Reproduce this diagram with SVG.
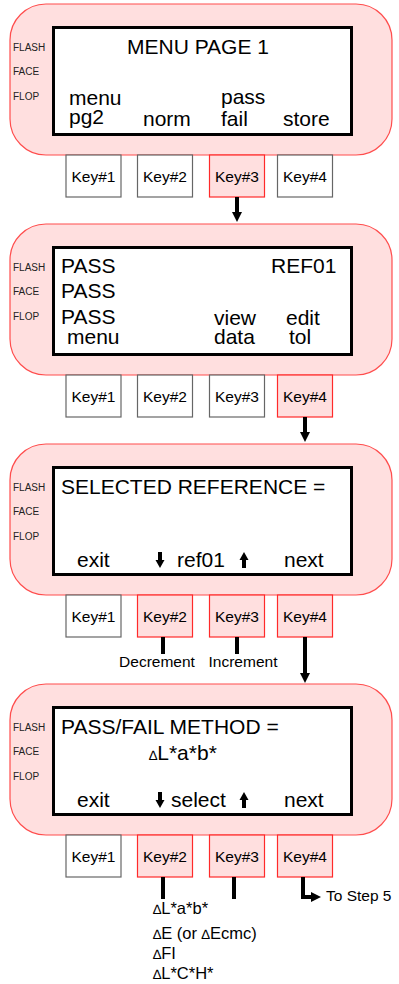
<svg xmlns="http://www.w3.org/2000/svg" width="399" height="984" viewBox="0 0 399 984">
<style>
text{font-family:"Liberation Sans",Arial,sans-serif;fill:#000}
.panel{fill:#ffdfdf;stroke:#ff4d4d;stroke-width:1.2}
.lcd{fill:#fff;stroke:#000;stroke-width:3}
.key{fill:#fff;stroke:#666;stroke-width:1.2}
.keyon{fill:#ffdfdf;stroke:#ff2a2a;stroke-width:1.2}
.side{font-size:10px;fill:#222}
.big{font-size:21px}
.kl{font-size:15.5px;text-anchor:middle}
.sm{font-size:15.5px}
.lst{font-size:16.5px}
.tri{font-size:13.5px}
.ln{stroke:#000;stroke-width:4;fill:none}
</style>
<defs>
<path id="dn" d="M-2,0H2V8H4.5L0,16L-4.5,8H-2Z" fill="#000"/>
<path id="up" d="M-2,16H2V8H4.5L0,0L-4.5,8H-2Z" fill="#000"/>
</defs>

<g id="panel1">
<rect class="panel" x="10" y="4" width="382" height="151" rx="36"/>
<text class="side" x="13" y="51">FLASH</text>
<text class="side" x="13" y="75">FACE</text>
<text class="side" x="13" y="100">FLOP</text>
<rect class="lcd" x="53.5" y="27.5" width="298" height="107"/>
<text class="big" x="127" y="54">MENU PAGE 1</text>
<text class="big" x="69" y="105">menu</text>
<text class="big" x="69" y="124">pg2</text>
<text class="big" x="143" y="126">norm</text>
<text class="big" x="221" y="104">pass</text>
<text class="big" x="221" y="126">fail</text>
<text class="big" x="283" y="126">store</text>
</g>
<g id="keys1">
<rect class="key" x="66" y="155" width="55" height="42"/><text class="kl" x="93.5" y="182">Key#1</text>
<rect class="key" x="137.5" y="155" width="55" height="42"/><text class="kl" x="165" y="182">Key#2</text>
<rect class="keyon" x="209.5" y="155" width="55" height="42"/><text class="kl" x="237" y="182">Key#3</text>
<rect class="key" x="277.5" y="155" width="55" height="42"/><text class="kl" x="305" y="182">Key#4</text>
</g>

<g id="panel2">
<rect class="panel" x="10" y="224" width="382" height="151" rx="36"/>
<text class="side" x="13" y="271">FLASH</text>
<text class="side" x="13" y="295">FACE</text>
<text class="side" x="13" y="320">FLOP</text>
<rect class="lcd" x="53.5" y="247.5" width="298" height="107"/>
<text class="big" x="61" y="273">PASS</text>
<text class="big" x="271" y="273">REF01</text>
<text class="big" x="61" y="298">PASS</text>
<text class="big" x="61" y="324">PASS</text>
<text class="big" x="67" y="344">menu</text>
<text class="big" x="214" y="325">view</text>
<text class="big" x="214" y="344">data</text>
<text class="big" x="286" y="325">edit</text>
<text class="big" x="289" y="344">tol</text>
</g>
<g id="keys2">
<rect class="key" x="66" y="375" width="55" height="42"/><text class="kl" x="93.5" y="402">Key#1</text>
<rect class="key" x="137.5" y="375" width="55" height="42"/><text class="kl" x="165" y="402">Key#2</text>
<rect class="key" x="209.5" y="375" width="55" height="42"/><text class="kl" x="237" y="402">Key#3</text>
<rect class="keyon" x="277.5" y="375" width="55" height="42"/><text class="kl" x="305" y="402">Key#4</text>
</g>

<g id="panel3">
<rect class="panel" x="10" y="444" width="382" height="151" rx="36"/>
<text class="side" x="13" y="491">FLASH</text>
<text class="side" x="13" y="515">FACE</text>
<text class="side" x="13" y="540">FLOP</text>
<rect class="lcd" x="53.5" y="467.5" width="298" height="107"/>
<text class="big" x="61" y="494">SELECTED REFERENCE =</text>
<text class="big" x="77" y="567">exit</text>
<use href="#dn" x="160" y="552"/>
<text class="big" x="177" y="567">ref01</text>
<use href="#up" x="244" y="552"/>
<text class="big" x="284" y="567">next</text>
</g>
<g id="keys3">
<rect class="key" x="66" y="595" width="55" height="42"/><text class="kl" x="93.5" y="622">Key#1</text>
<rect class="keyon" x="137.5" y="595" width="55" height="42"/><text class="kl" x="165" y="622">Key#2</text>
<rect class="keyon" x="209.5" y="595" width="55" height="42"/><text class="kl" x="237" y="622">Key#3</text>
<rect class="keyon" x="277.5" y="595" width="55" height="42"/><text class="kl" x="305" y="622">Key#4</text>
<text class="sm" x="157" y="667" text-anchor="middle">Decrement</text>
<text class="sm" x="243" y="667" text-anchor="middle">Increment</text>
</g>

<g id="panel4">
<rect class="panel" x="10" y="684" width="382" height="151" rx="36"/>
<text class="side" x="13" y="731">FLASH</text>
<text class="side" x="13" y="755">FACE</text>
<text class="side" x="13" y="780">FLOP</text>
<rect class="lcd" x="53.5" y="707.5" width="298" height="107"/>
<text class="big" x="61" y="734">PASS/FAIL METHOD =</text>
<text class="big" x="149" y="760"><tspan class="tri">∆</tspan>L*a*b*</text>
<text class="big" x="77" y="807">exit</text>
<use href="#dn" x="160" y="792"/>
<text class="big" x="171" y="807">select</text>
<use href="#up" x="244" y="792"/>
<text class="big" x="284" y="807">next</text>
</g>
<g id="keys4">
<rect class="key" x="66" y="835" width="55" height="42"/><text class="kl" x="93.5" y="862">Key#1</text>
<rect class="keyon" x="137.5" y="835" width="55" height="42"/><text class="kl" x="165" y="862">Key#2</text>
<rect class="keyon" x="209.5" y="835" width="55" height="42"/><text class="kl" x="237" y="862">Key#3</text>
<rect class="keyon" x="277.5" y="835" width="55" height="42"/><text class="kl" x="305" y="862">Key#4</text>
<text class="sm" x="326" y="901">To Step 5</text>
<text class="lst" x="153" y="914"><tspan class="tri">∆</tspan>L*a*b*</text>
<text class="lst" x="153" y="939"><tspan class="tri">∆</tspan>E (or <tspan class="tri">∆</tspan>Ecmc)</text>
<text class="lst" x="153" y="959"><tspan class="tri">∆</tspan>FI</text>
<text class="lst" x="153" y="979"><tspan class="tri">∆</tspan>L*C*H*</text>
</g>

<g id="connectors">
<line class="ln" x1="237" y1="197" x2="237" y2="213"/>
<path d="M232,212H242L237,222Z" fill="#000"/>
<line class="ln" x1="305" y1="417" x2="305" y2="433"/>
<path d="M300,432H310L305,442Z" fill="#000"/>
<line class="ln" x1="163" y1="637" x2="163" y2="654"/>
<line class="ln" x1="237" y1="637" x2="237" y2="654"/>
<line class="ln" x1="305" y1="637" x2="305" y2="674"/>
<path d="M300,673H310L305,683Z" fill="#000"/>
<line class="ln" x1="163" y1="877" x2="163" y2="899"/>
<line class="ln" x1="234" y1="877" x2="234" y2="899"/>
<path class="ln" d="M303,877V897H312"/>
<path d="M311,892V902L321,897Z" fill="#000"/>
</g>
</svg>
